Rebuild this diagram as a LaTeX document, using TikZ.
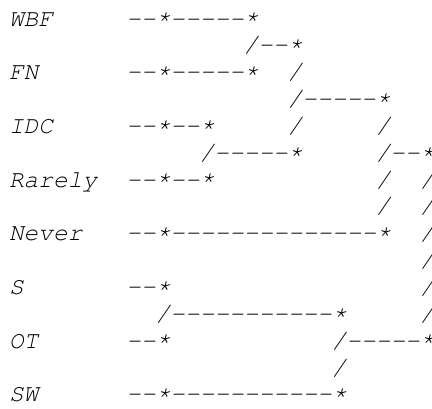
\documentclass[tikz,border=0pt]{standalone}
\usepackage[T1]{fontenc}
\tikzset{
  cell/.style={anchor=base west, inner sep=0pt, outer sep=0pt,
    font=\fontencoding{T1}\fontfamily{pcr}\fontseries{m}\fontshape{sl}\fontsize{24.5bp}{27bp}\selectfont}
}
% one dash (no ligatures) and one raised star, each one character cell wide
\newcommand\dsh{-{}}
\newcommand\stx{\raisebox{2.5bp}{*}}
% place a chunk of text at character column #2 of text row #3
\newcommand\chunk[4]{\node[cell] (#1) at ({9+14.67*#2},{26+26.85*#3}) {#4};}
\begin{document}
\begin{tikzpicture}[x=1bp,y=-1bp]
\useasboundingbox (0,0) rectangle (432,409);
\chunk{wbf}{0}{0}{WBF}      \chunk{wbfs}{8}{0}{\dsh\dsh\stx\dsh\dsh\dsh\dsh\dsh\stx}
\chunk{j1}{16}{1}{/\dsh\dsh\stx}
\chunk{fn}{0}{2}{FN}        \chunk{fns}{8}{2}{\dsh\dsh\stx\dsh\dsh\dsh\dsh\dsh\stx}  \chunk{v2a}{19}{2}{/}
\chunk{j2}{19}{3}{/\dsh\dsh\dsh\dsh\dsh\stx}
\chunk{idc}{0}{4}{IDC}      \chunk{idcs}{8}{4}{\dsh\dsh\stx\dsh\dsh\stx}    \chunk{v4a}{19}{4}{/} \chunk{v4b}{25}{4}{/}
\chunk{j3}{13}{5}{/\dsh\dsh\dsh\dsh\dsh\stx}  \chunk{j4}{25}{5}{/\dsh\dsh\stx}
\chunk{rar}{0}{6}{Rarely}   \chunk{rars}{8}{6}{\dsh\dsh\stx\dsh\dsh\stx}    \chunk{v6a}{25}{6}{/} \chunk{v6b}{28}{6}{/}
\chunk{v7a}{25}{7}{/}       \chunk{v7b}{28}{7}{/}
\chunk{nev}{0}{8}{Never}    \chunk{nevs}{8}{8}{\dsh\dsh\stx\dsh\dsh\dsh\dsh\dsh\dsh\dsh\dsh\dsh\dsh\dsh\dsh\dsh\dsh\stx} \chunk{v8}{28}{8}{/}
\chunk{v9}{28}{9}{/}
\chunk{s}{0}{10}{S}         \chunk{ss}{8}{10}{\dsh\dsh\stx}        \chunk{v10}{28}{10}{/}
\chunk{j5}{10}{11}{/\dsh\dsh\dsh\dsh\dsh\dsh\dsh\dsh\dsh\dsh\dsh\stx} \chunk{v11}{28}{11}{/}
\chunk{ot}{0}{12}{OT}       \chunk{ots}{8}{12}{\dsh\dsh\stx}       \chunk{j6}{22}{12}{/\dsh\dsh\dsh\dsh\dsh\stx}
\chunk{v13}{22}{13}{/}
\chunk{sw}{0}{14}{SW}       \chunk{sws}{8}{14}{\dsh\dsh\stx\dsh\dsh\dsh\dsh\dsh\dsh\dsh\dsh\dsh\dsh\dsh\stx}
\end{tikzpicture}
\end{document}
